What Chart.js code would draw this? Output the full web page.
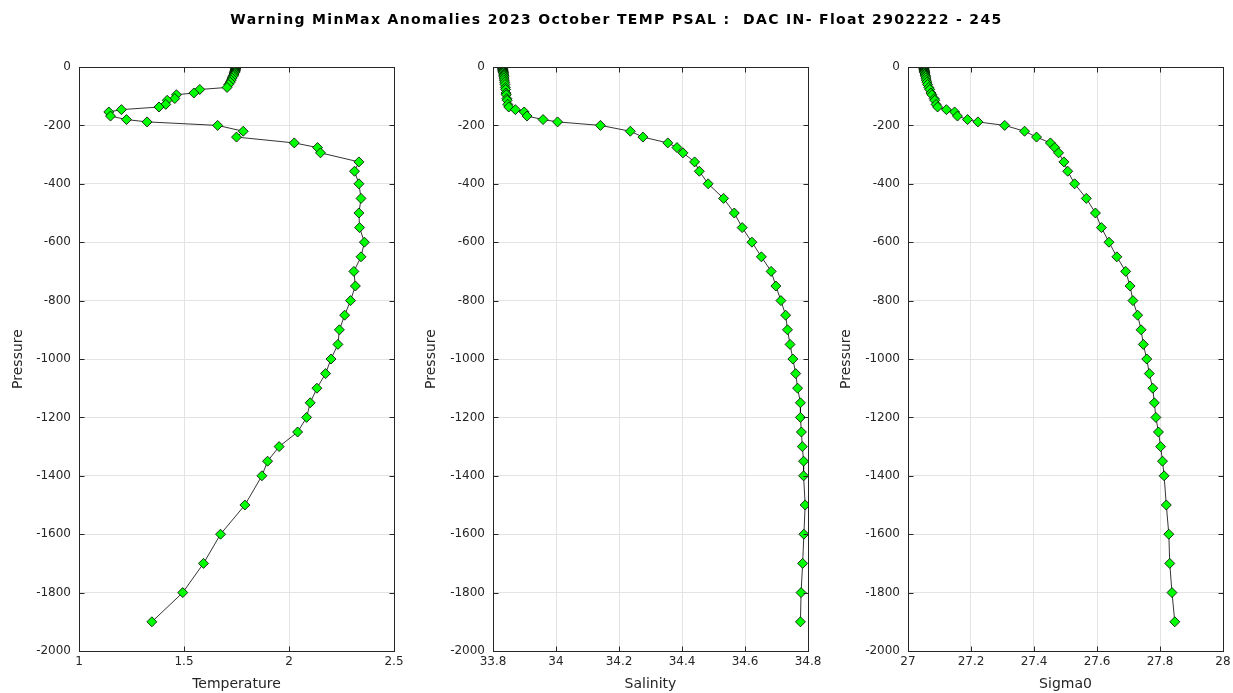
<!DOCTYPE html>
<html>
<head>
<meta charset="utf-8">
<script src="https://cdn.jsdelivr.net/npm/chart.js@4.4.0/dist/chart.umd.min.js"></script>
<style>
  html, body { margin: 0; padding: 0; background: #fff; width: 1233px; height: 693px; overflow: hidden; position: relative; }
  #title { position: absolute; left: 0; top: 11px; width: 1233px; text-align: center; font-family: "DejaVu Sans", sans-serif; font-weight: bold; font-size: 14px; letter-spacing: 1.35px; color: #000; white-space: pre; z-index: 5; }
  canvas { position: absolute; top: 0; }
</style>
</head>
<body>
<div id="title">Warning MinMax Anomalies 2023 October TEMP PSAL :  DAC IN- Float 2902222 - 245</div>
<canvas id="c1" width="414" height="693" style="left:0px"></canvas>
<canvas id="c2" width="424" height="693" style="left:410px"></canvas>
<canvas id="c3" width="423" height="693" style="left:825px"></canvas>
<script>
// ---- Data ----
const pressure = [2,4,6,8,10,12,14,16,18,20,24,28,32,38,45,52,60,70,77,89,95,108,114,128,137,146,154,168,180,188,200,220,240,260,276,294,325,357,400,450,500,550,600,650,700,750,800,850,900,950,1000,1050,1100,1150,1200,1250,1300,1350,1400,1500,1600,1700,1800,1900];

const temperature = [1.746,1.746,1.745,1.745,1.744,1.744,1.743,1.742,1.741,1.740,1.738,1.736,1.733,1.729,1.725,1.720,1.713,1.705,1.575,1.547,1.464,1.456,1.420,1.413,1.381,1.202,1.142,1.150,1.226,1.324,1.660,1.782,1.750,2.025,2.136,2.150,2.333,2.312,2.333,2.343,2.333,2.336,2.359,2.343,2.309,2.316,2.293,2.265,2.240,2.233,2.200,2.174,2.133,2.101,2.084,2.041,1.953,1.898,1.871,1.790,1.674,1.593,1.494,1.347];

const salinity = [33.830,33.830,33.831,33.831,33.831,33.832,33.832,33.832,33.833,33.833,33.834,33.834,33.835,33.835,33.836,33.837,33.838,33.839,33.840,33.841,33.842,33.844,33.845,33.847,33.850,33.871,33.899,33.908,33.959,34.005,34.141,34.236,34.276,34.355,34.384,34.403,34.440,34.455,34.483,34.532,34.566,34.591,34.622,34.652,34.683,34.698,34.714,34.729,34.735,34.743,34.752,34.761,34.767,34.776,34.776,34.779,34.782,34.786,34.786,34.791,34.787,34.783,34.778,34.776];

const sigma0 = [27.050,27.050,27.051,27.051,27.051,27.052,27.052,27.052,27.053,27.053,27.054,27.055,27.056,27.057,27.058,27.060,27.062,27.066,27.069,27.073,27.076,27.083,27.085,27.089,27.094,27.122,27.148,27.157,27.189,27.222,27.307,27.370,27.408,27.452,27.466,27.478,27.495,27.507,27.529,27.566,27.595,27.614,27.638,27.663,27.691,27.705,27.714,27.729,27.740,27.747,27.758,27.766,27.777,27.782,27.787,27.795,27.802,27.808,27.813,27.820,27.828,27.831,27.838,27.847];

const panels = [
  { id: 'c1', label: 'Temperature', values: temperature, xmin: 1, xmax: 2.5, xstep: 0.5, yAxisWidth: 79, padRight: 20, titlePad: 10 },
  { id: 'c2', label: 'Salinity', values: salinity, xmin: 33.8, xmax: 34.8, xstep: 0.2, yAxisWidth: 83, padRight: 26, titlePad: 13 },
  { id: 'c3', label: 'Sigma0', values: sigma0, xmin: 27, xmax: 28, xstep: 0.2, yAxisWidth: 83, padRight: 25, titlePad: 13 }
];
const yMin = -2000, yMax = 0, yStep = 200;

const axisColor = '#262626';
const fontFamily = '"DejaVu Sans", sans-serif';

const boxPlugin = {
  id: 'matlabBox',
  afterDraw(chart) {
    const ctx = chart.ctx;
    const a = chart.chartArea;
    const xs = chart.scales.x, ys = chart.scales.y;
    ctx.save();
    ctx.strokeStyle = axisColor;
    ctx.lineWidth = 1;
    const L = Math.round(a.left) + 0.5, R = Math.round(a.right) + 0.5;
    const T = Math.round(a.top) + 0.5, B = Math.round(a.bottom) + 0.5;
    ctx.strokeRect(L, T, R - L, B - T);
    ctx.beginPath();
    xs.ticks.forEach(t => {
      const px = Math.round(xs.getPixelForValue(t.value)) + 0.5;
      ctx.moveTo(px, B); ctx.lineTo(px, B - 5);
      ctx.moveTo(px, T); ctx.lineTo(px, T + 5);
    });
    ys.ticks.forEach(t => {
      const py = Math.round(ys.getPixelForValue(t.value)) + 0.5;
      ctx.moveTo(L, py); ctx.lineTo(L + 5, py);
      ctx.moveTo(R, py); ctx.lineTo(R - 5, py);
    });
    ctx.stroke();
    ctx.restore();
  }
};

function fmt(v) {
  const r = Math.round(v * 1000) / 1000;
  return String(r);
}

panels.forEach(p => {
  const data = pressure.map((pr, i) => ({ x: p.values[i], y: -pr }));
  new Chart(document.getElementById(p.id), {
    type: 'scatter',
    data: {
      datasets: [{
        data: data,
        showLine: true,
        borderColor: '#000',
        borderWidth: 0.8,
        pointStyle: 'rectRot',
        pointRadius: 5,
        pointHoverRadius: 5,
        pointBackgroundColor: '#00ff00',
        pointBorderColor: '#000',
        pointBorderWidth: 0.8
      }]
    },
    options: {
      responsive: false,
      animation: false,
      events: [],
      layout: { padding: { top: 67, right: p.padRight, left: 0, bottom: 0 } },
      plugins: { legend: { display: false }, tooltip: { enabled: false } },
      scales: {
        x: {
          type: 'linear',
          min: p.xmin, max: p.xmax,
          afterFit(s) { s.height = 42; },
          ticks: { stepSize: p.xstep, color: axisColor, font: { family: fontFamily, size: 12 }, padding: 4, callback: v => fmt(v), maxRotation: 0 },
          grid: { color: '#e3e3e3', drawTicks: false, lineWidth: 1 },
          border: { display: false },
          title: { display: true, text: p.label, color: axisColor, font: { family: fontFamily, size: 14 }, padding: { top: 1, bottom: 0 } }
        },
        y: {
          type: 'linear',
          min: yMin, max: yMax,
          afterFit(s) { s.width = p.yAxisWidth; },
          ticks: { stepSize: yStep, color: axisColor, font: { family: fontFamily, size: 12 }, padding: 8, callback: v => String(Math.round(v)) },
          grid: { color: '#e3e3e3', drawTicks: false, lineWidth: 1 },
          border: { display: false },
          title: { display: true, text: 'Pressure', color: axisColor, font: { family: fontFamily, size: 14 }, padding: { top: p.titlePad, bottom: 0 } }
        }
      }
    },
    plugins: [boxPlugin]
  });
});
</script>
</body>
</html>
